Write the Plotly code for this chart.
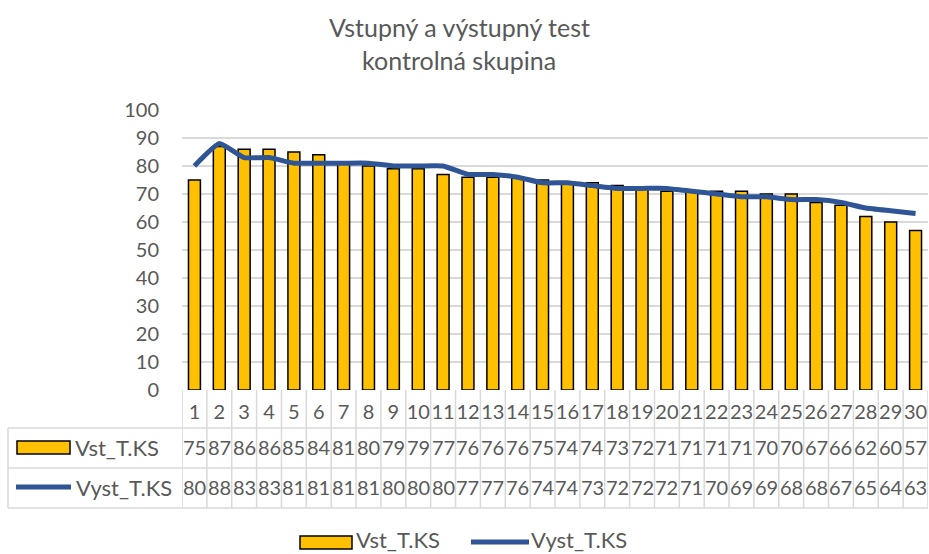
import plotly.graph_objects as go

categories = [str(i) for i in range(1, 31)]
vst = [75, 87, 86, 86, 85, 84, 81, 80, 79, 79, 77, 76, 76, 76, 75,
       74, 74, 73, 72, 71, 71, 71, 71, 70, 70, 67, 66, 62, 60, 57]
vyst = [80, 88, 83, 83, 81, 81, 81, 81, 80, 80, 80, 77, 77, 76, 74,
        74, 73, 72, 72, 72, 71, 70, 69, 69, 68, 68, 67, 65, 64, 63]
name_vst = "Vst_T.KS"
name_vyst = "Vyst_T.KS"
title_lines = ["Vstupný a výstupný test", "kontrolná skupina"]
yticks = list(range(0, 101, 10))

W, H = 929, 554
L, R, T, B = 182, 1, 110, 164
PW, PH = W - L - R, H - T - B

def py(pix):  # pixel y -> paper y
    return (H - B - pix) / PH

def px(pix):  # pixel x -> paper x
    return (pix - L) / PW

FONT = "Lato"
GREY = "#595959"
GRID = "#d9d9d9"
YEL = "#FFC000"
BLUE = "#2F5597"

xs = list(range(1, len(categories) + 1))

fig = go.Figure()
fig.add_trace(go.Bar(x=xs, y=vst, name=name_vst,
                     marker=dict(color=YEL, line=dict(color="black", width=1.5)),
                     width=0.48, showlegend=False))
fig.add_trace(go.Scatter(x=xs, y=vyst, name=name_vyst, mode="lines", showlegend=False,
                         line=dict(color=BLUE, width=5, shape="spline", smoothing=0.4)))

shapes = []
row_top, row1, row2, row_bot = 390, 428, 468, 508
# column borders of the data table
for k in range(len(categories) + 1):
    shapes.append(dict(type="line", xref="x", yref="paper", x0=k + 0.5, x1=k + 0.5,
                       y0=py(row_top), y1=py(row_bot), line=dict(color=GRID, width=1.5)))
# horizontal table lines
for yy in (row1, row2, row_bot):
    shapes.append(dict(type="line", xref="paper", yref="paper", x0=px(8), x1=1,
                       y0=py(yy), y1=py(yy), line=dict(color=GRID, width=1.5)))
shapes.append(dict(type="line", xref="paper", yref="paper", x0=px(8), x1=px(8),
                   y0=py(row1), y1=py(row_bot), line=dict(color=GRID, width=1.5)))
# legend keys in table
shapes.append(dict(type="rect", xref="paper", yref="paper", x0=px(17), x1=px(70),
                   y0=py(441), y1=py(454), fillcolor=YEL, line=dict(color="black", width=1.5)))
shapes.append(dict(type="line", xref="paper", yref="paper", x0=px(16), x1=px(71),
                   y0=py(487), y1=py(487), line=dict(color=BLUE, width=5)))
# bottom legend keys
shapes.append(dict(type="rect", xref="paper", yref="paper", x0=px(300), x1=px(352),
                   y0=py(536), y1=py(549), fillcolor=YEL, line=dict(color="black", width=1.5)))
shapes.append(dict(type="line", xref="paper", yref="paper", x0=px(471), x1=px(529),
                   y0=py(542), y1=py(542), line=dict(color=BLUE, width=5)))

def txt(x, y, s, size=20, anchor="left", xref="paper"):
    return dict(xref=xref, yref="paper", x=x, y=y, text=s, showarrow=False,
                xanchor=anchor, yanchor="middle",
                font=dict(family=FONT, size=size, color=GREY))

ann = []
ann.append(txt(px(73), py(447), name_vst, size=22))
ann.append(txt(px(74), py(487), name_vyst, size=22))
for x, a, b in zip(xs, vst, vyst):
    ann.append(txt(x, py(447), str(a), anchor="center", xref="x"))
    ann.append(txt(x, py(487), str(b), anchor="center", xref="x"))
# title
ann.append(txt(px(459), py(27), title_lines[0], size=25, anchor="center"))
ann.append(txt(px(459), py(60), title_lines[1], size=25, anchor="center"))
# bottom legend
ann.append(txt(px(354), py(539), name_vst, size=22))
ann.append(txt(px(529), py(539), name_vyst, size=22))

fig.update_layout(
    width=W, height=H, margin=dict(l=L, r=R, t=T, b=B, autoexpand=False),
    plot_bgcolor="white", paper_bgcolor="white",
    font=dict(family=FONT, size=20, color=GREY),
    shapes=shapes, annotations=ann,
    showlegend=False,
    xaxis=dict(range=[0.5, len(categories) + 0.5], tickvals=xs, ticktext=categories,
               tickangle=0, showgrid=False, zeroline=False, showline=False, ticks="",
               ticklabelstandoff=8, tickfont=dict(family=FONT, size=20, color=GREY)),
    yaxis=dict(range=[0, 100], tickvals=yticks, showgrid=True, gridcolor=GRID, gridwidth=1.5,
               zeroline=False, showline=False, ticks="", ticklabelstandoff=22,
               tickfont=dict(family=FONT, size=20, color=GREY)),
)

fig.write_html("out.html", config={"displayModeBar": False},
               post_script="document.body.style.margin='0px';")
